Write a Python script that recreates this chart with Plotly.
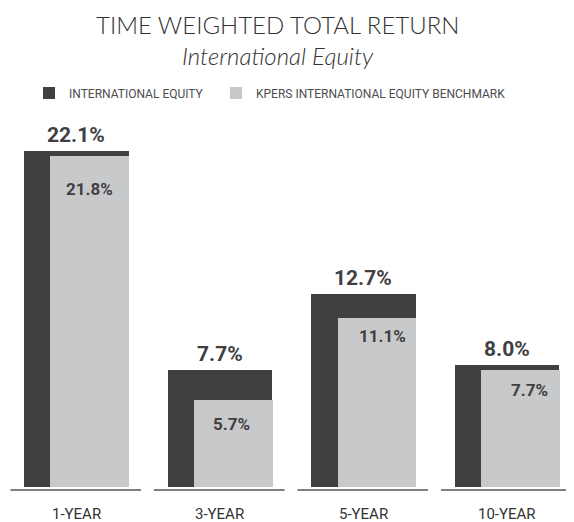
import plotly.graph_objects as go

categories = ["1-YEAR", "3-YEAR", "5-YEAR", "10-YEAR"]
intl_equity = [22.1, 7.7, 12.7, 8.0]
benchmark = [21.8, 5.7, 11.1, 7.7]
series_names = ["INTERNATIONAL EQUITY", "KPERS INTERNATIONAL EQUITY BENCHMARK"]

# label placement styling (pixels) for the benchmark value labels
bench_label_dy = [21, 12, 6, 8]
bench_label_dx = [0, -2, 6, 9]

DARK = "#404042"
LIGHT = "#c8c9cb"
LABEL_FONT = "Roboto, Liberation Sans Narrow, sans-serif"
TITLE_FONT = "Lato, Open Sans, sans-serif"

W, H = 566, 514
T, B = 92, 25
x_idx = list(range(len(categories)))

fig = go.Figure()
fig.add_trace(go.Bar(
    x=x_idx, y=intl_equity, name=series_names[0], legend="legend",
    marker=dict(color=DARK, line=dict(width=0)),
    width=0.73, offset=-0.365, hoverinfo="skip",
))
fig.add_trace(go.Bar(
    x=x_idx, y=benchmark, name=series_names[1], legend="legend2",
    marker=dict(color=LIGHT, line=dict(width=0)),
    width=0.55, offset=-0.181, hoverinfo="skip",
))

annotations = []
for i, v in enumerate(intl_equity):
    annotations.append(dict(
        x=i, y=v, xref="x", yref="y", text=f"{v:.1f}%", showarrow=False,
        yanchor="bottom", yshift=2,
        font=dict(family=LABEL_FONT, size=21, color=DARK, weight="bold"),
    ))
for i, v in enumerate(benchmark):
    annotations.append(dict(
        x=i + 0.094, y=v, xref="x", yref="y", text=f"{v:.1f}%", showarrow=False,
        yanchor="top", yshift=-bench_label_dy[i], xshift=bench_label_dx[i],
        font=dict(family=LABEL_FONT, size=17, color=DARK, weight="bold"),
    ))
for i, c in enumerate(categories):
    annotations.append(dict(
        x=i, y=0, xref="x", yref="y", text=c, showarrow=False,
        yanchor="top", yshift=-16,
        font=dict(family=LABEL_FONT, size=15, color="#333333"),
    ))
annotations.append(dict(
    x=0.477, y=1, xref="paper", yref="paper", text="TIME WEIGHTED TOTAL RETURN",
    showarrow=False, yanchor="middle", yshift=76,
    font=dict(family=TITLE_FONT, size=24, color="#333333", weight=300),
))
annotations.append(dict(
    x=0.477, y=1, xref="paper", yref="paper", text="International Equity",
    showarrow=False, yanchor="middle", yshift=45,
    font=dict(family=TITLE_FONT, size=24, color="#333333", weight=300, style="italic"),
))

shapes = []
for i in x_idx:
    shapes.append(dict(
        type="line", xref="x", yref="y", x0=i - 0.46, x1=i + 0.45, y0=-0.2, y1=-0.2,
        line=dict(color="#808080", width=2),
    ))

legend_common = dict(
    orientation="h", xanchor="left", y=1 + 7 / (H - T - B), yanchor="middle",
    font=dict(family=LABEL_FONT, size=12, color="#4d4d4f"),
    itemwidth=30, bgcolor="rgba(0,0,0,0)",
)

fig.update_layout(
    width=W, height=H,
    margin=dict(l=0, r=0, t=T, b=B),
    paper_bgcolor="white", plot_bgcolor="white",
    barmode="overlay", bargap=0,
    showlegend=True,
    legend=dict(x=21 / W, **legend_common),
    legend2=dict(x=208 / W, **legend_common),
    xaxis=dict(range=[-0.477, 3.467], showgrid=False, zeroline=False,
               showticklabels=False, showline=False, ticks=""),
    yaxis=dict(range=[-0.66, 25.46], showgrid=False, zeroline=False,
               showticklabels=False, showline=False, ticks=""),
    annotations=annotations,
    shapes=shapes,
)

fig.write_html("out.html")
